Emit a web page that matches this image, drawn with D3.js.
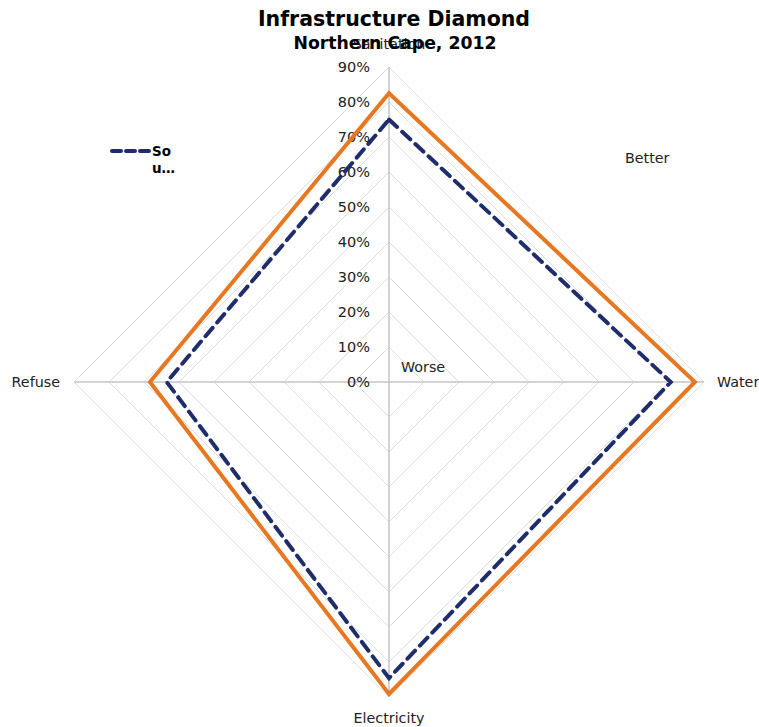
<!DOCTYPE html>
<html><head><meta charset="utf-8">
<script src="https://cdn.jsdelivr.net/npm/d3@7"></script>
<style>body{margin:0;background:#fff;}svg{display:block;font-family:"DejaVu Sans",Verdana,sans-serif;}</style>
</head><body>
<svg id="c" width="759" height="727"></svg>
<script>
const axes = ["Sanitation", "Water", "Electricity", "Refuse"];
const southAfrica = [0.75, 0.805, 0.846, 0.635];
const northernCape = [0.825, 0.874, 0.891, 0.683];
const ticks = [0, 0.1, 0.2, 0.3, 0.4, 0.5, 0.6, 0.7, 0.8, 0.9];
const tickLabels = ["0%", "10%", "20%", "30%", "40%", "50%", "60%", "70%", "80%", "90%"];

const svg = d3.select("#c");
const cx = 389, cy = 382;
const r = d3.scaleLinear().domain([0, 0.9]).range([0, 315]);
const angle = i => i * Math.PI / 2;
const pt = (i, v) => [cx + r(v) * Math.sin(angle(i)), cy - r(v) * Math.cos(angle(i))];

// rings
ticks.slice(1).forEach(t => {
  svg.append("polygon")
    .attr("points", axes.map((a, i) => pt(i, t).join(",")).join(" "))
    .attr("fill", "none").attr("stroke", "#dedede").attr("stroke-width", 1);
});
// axes
axes.forEach((a, i) => {
  const p = pt(i, 0.9);
  svg.append("line").attr("x1", cx).attr("y1", cy).attr("x2", p[0]).attr("y2", p[1])
    .attr("stroke", "#c4c4c4").attr("stroke-width", 1.5);
});
// tick labels
ticks.forEach((t, k) => {
  svg.append("text").attr("x", cx - 19).attr("y", cy - r(t) + 5)
    .attr("text-anchor", "end").attr("font-size", 14.5).attr("fill", "#222").text(tickLabels[k]);
});
// series
const line = d3.line().curve(d3.curveLinearClosed);
svg.append("path").attr("d", line(northernCape.map((v, i) => pt(i, v))))
  .attr("fill", "none").attr("stroke", "#E87722").attr("stroke-width", 4).attr("stroke-linejoin", "miter");
svg.append("path").attr("d", line(southAfrica.map((v, i) => pt(i, v))))
  .attr("fill", "none").attr("stroke", "#1F2D6B").attr("stroke-width", 4)
  .attr("stroke-dasharray", "11,7").attr("stroke-linecap", "round");

// axis labels
const lab = (x, y, t, anchor) => svg.append("text").attr("x", x).attr("y", y)
  .attr("text-anchor", anchor).attr("font-size", 14.3).attr("fill", "#222").text(t);
lab(cx, 49, axes[0], "middle");
lab(717, cy + 5, axes[1], "start");
lab(cx, 723, axes[2], "middle");
lab(60, cy + 5, axes[3], "end");
lab(401, 372, "Worse", "start");
lab(625, 163, "Better", "start");

// title
svg.append("text").attr("x", 394).attr("y", 26).attr("text-anchor", "middle")
  .attr("font-size", 20.5).attr("font-weight", "bold").text("Infrastructure Diamond");
svg.append("text").attr("x", 395).attr("y", 49).attr("text-anchor", "middle")
  .attr("font-size", 17.3).attr("font-weight", "bold").text("Northern Cape, 2012");

// legend
svg.append("line").attr("x1", 112).attr("y1", 151).attr("x2", 149).attr("y2", 151)
  .attr("stroke", "#1F2D6B").attr("stroke-width", 4).attr("stroke-dasharray", "9,5").attr("stroke-linecap", "round");
svg.append("text").attr("x", 152).attr("y", 156).attr("font-size", 13.5).attr("font-weight", "bold").text("So");
svg.append("text").attr("x", 152).attr("y", 173).attr("font-size", 13.5).attr("font-weight", "bold").text("u…");
</script>
</body></html>
